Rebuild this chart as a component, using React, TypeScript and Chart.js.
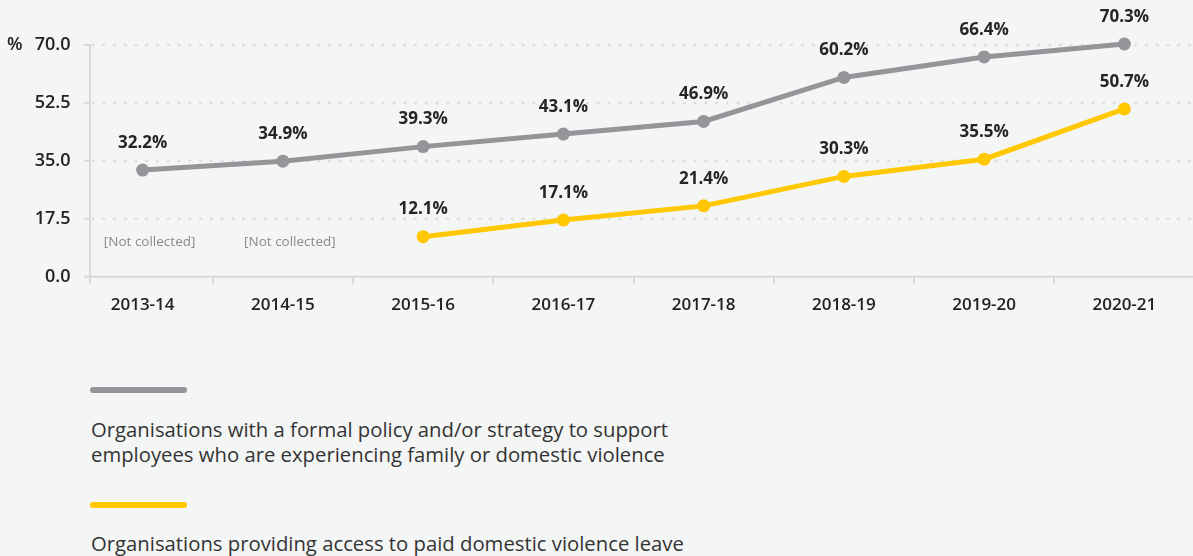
import React, { useEffect, useRef } from 'react';
import { Chart, registerables } from 'chart.js';

Chart.register(...registerables);

const categories = ['2013-14', '2014-15', '2015-16', '2016-17', '2017-18', '2018-19', '2019-20', '2020-21'];
const policyValues = [32.2, 34.9, 39.3, 43.1, 46.9, 60.2, 66.4, 70.3];
const leaveValues = [null, null, 12.1, 17.1, 21.4, 30.3, 35.5, 50.7];
const yTickValues = [0, 17.5, 35, 52.5, 70];
const notCollectedIndexes = [0, 1];
const notCollectedValue = 10.4;
const notCollectedText = '[Not collected]';
const seriesNames = [
  'Organisations with a formal policy and/or strategy to support employees who are experiencing family or domestic violence',
  'Organisations providing access to paid domestic violence leave',
];
const seriesColors = ['#939598', '#ffc800'];

const FONT = '"Open Sans", sans-serif';
const CANVAS_W = 1201;
const CANVAS_H = 330;
const AXIS_X = 90;

const decorPlugin = {
  id: 'decor',
  beforeDatasetsDraw(chart: any) {
    const { ctx } = chart;
    const y = chart.scales.y;
    const x = chart.scales.x;
    ctx.save();
    // dotted grid lines
    ctx.fillStyle = '#dcdddd';
    yTickValues.forEach((v) => {
      if (v === 0) return;
      const py = y.getPixelForValue(v);
      for (let px = 93; px < chart.width; px += 10.75) {
        ctx.beginPath();
        ctx.arc(px, py, 1.5, 0, Math.PI * 2);
        ctx.fill();
      }
    });
    // axes
    ctx.strokeStyle = '#d9d9d9';
    ctx.lineWidth = 2;
    const bottom = y.getPixelForValue(0);
    const top = y.getPixelForValue(yTickValues[yTickValues.length - 1]);
    ctx.beginPath();
    ctx.moveTo(AXIS_X, top - 1);
    ctx.lineTo(AXIS_X, bottom + 7);
    ctx.stroke();
    ctx.beginPath();
    ctx.moveTo(84, bottom);
    ctx.lineTo(chart.width, bottom);
    ctx.stroke();
    yTickValues.forEach((v) => {
      const py = y.getPixelForValue(v);
      ctx.beginPath();
      ctx.moveTo(84, py);
      ctx.lineTo(AXIS_X, py);
      ctx.stroke();
    });
    // percent unit sign
    ctx.fillStyle = '#222';
    ctx.font = `600 18px ${FONT}`;
    ctx.textAlign = 'left';
    ctx.textBaseline = 'middle';
    ctx.fillText('%', 7, top);
    // not collected notes
    ctx.fillStyle = '#8a8a8a';
    ctx.font = `13.5px ${FONT}`;
    ctx.textAlign = 'center';
    notCollectedIndexes.forEach((i) => {
      ctx.fillText(notCollectedText, x.getPixelForValue(i) + 7, y.getPixelForValue(notCollectedValue));
    });
    ctx.restore();
  },
  afterDatasetsDraw(chart: any) {
    const { ctx } = chart;
    ctx.save();
    ctx.fillStyle = '#252525';
    ctx.font = `700 17px ${FONT}`;
    ctx.textAlign = 'center';
    ctx.textBaseline = 'middle';
    chart.data.datasets.forEach((ds: any, di: number) => {
      const meta = chart.getDatasetMeta(di);
      meta.data.forEach((pt: any, i: number) => {
        const v = ds.data[i];
        if (v === null || v === undefined) return;
        ctx.fillText(`${v.toFixed(1)}%`, pt.x, pt.y - 27);
      });
    });
    ctx.restore();
  },
};

export default function App() {
  const ref = useRef<HTMLCanvasElement>(null);
  useEffect(() => {
    if (!ref.current) return;
    const chart = new Chart(ref.current, {
      type: 'line',
      data: {
        labels: categories,
        datasets: [
          {
            label: seriesNames[0],
            data: policyValues,
            borderColor: seriesColors[0],
            backgroundColor: seriesColors[0],
            pointBackgroundColor: seriesColors[0],
            pointBorderWidth: 0,
            pointRadius: 6.5,
            borderWidth: 5,
            tension: 0,
            clip: false,
          } as any,
          {
            label: seriesNames[1],
            data: leaveValues,
            borderColor: seriesColors[1],
            backgroundColor: seriesColors[1],
            pointBackgroundColor: seriesColors[1],
            pointBorderWidth: 0,
            pointRadius: 6.5,
            borderWidth: 5,
            tension: 0,
            spanGaps: false,
            clip: false,
          } as any,
        ],
      },
      options: {
        responsive: false,
        animation: false,
        layout: { padding: { top: 45, left: 0, right: 0, bottom: 0 } },
        plugins: { legend: { display: false }, tooltip: { enabled: false } },
        scales: {
          x: {
            type: 'category',
            offset: true,
            border: { display: false },
            grid: {
              display: true,
              offset: true,
              drawOnChartArea: false,
              drawTicks: true,
              tickLength: 7,
              lineWidth: 2,
              color: (c: any) => (c.index === 0 ? 'rgba(0,0,0,0)' : '#d9d9d9'),
            },
            ticks: {
              autoSkip: false,
              maxRotation: 0,
              padding: 11,
              color: '#222',
              font: { family: FONT, size: 17, weight: '600' },
            },
            afterFit: (s: any) => {
              s.height = CANVAS_H - 276.7;
            },
          },
          y: {
            min: 0,
            max: 70,
            border: { display: false },
            grid: { display: false, drawTicks: false },
            ticks: {
              padding: 2,
              color: '#222',
              font: { family: FONT, size: 18, weight: '600' },
              callback: (v: any) => Number(v).toFixed(1),
            },
            afterBuildTicks: (s: any) => {
              s.ticks = yTickValues.map((v) => ({ value: v }));
            },
            afterFit: (s: any) => {
              s.width = 72.5;
            },
          },
        },
      } as any,
      plugins: [decorPlugin],
    });
    return () => chart.destroy();
  }, []);

  const textStyle: React.CSSProperties = {
    position: 'absolute',
    left: 91,
    width: 620,
    fontFamily: FONT,
    fontSize: 20.3,
    lineHeight: '24.5px',
    color: '#333',
  };
  const barStyle = (color: string, top: number): React.CSSProperties => ({
    position: 'absolute',
    left: 90,
    top,
    width: 97,
    height: 6,
    borderRadius: 3,
    background: color,
  });

  return (
    <div
      style={{
        position: 'fixed',
        left: 0,
        top: 0,
        width: 1193,
        height: 556,
        overflow: 'hidden',
        background: '#f4f5f5',
      }}
    >
      <canvas
        ref={ref}
        width={CANVAS_W}
        height={CANVAS_H}
        style={{ position: 'absolute', left: 0, top: 0, width: CANVAS_W, height: CANVAS_H }}
      />
      <div style={barStyle(seriesColors[0], 387)} />
      <div style={{ ...textStyle, top: 417 }}>{seriesNames[0]}</div>
      <div style={barStyle(seriesColors[1], 502)} />
      <div style={{ ...textStyle, top: 531 }}>{seriesNames[1]}</div>
    </div>
  );
}
